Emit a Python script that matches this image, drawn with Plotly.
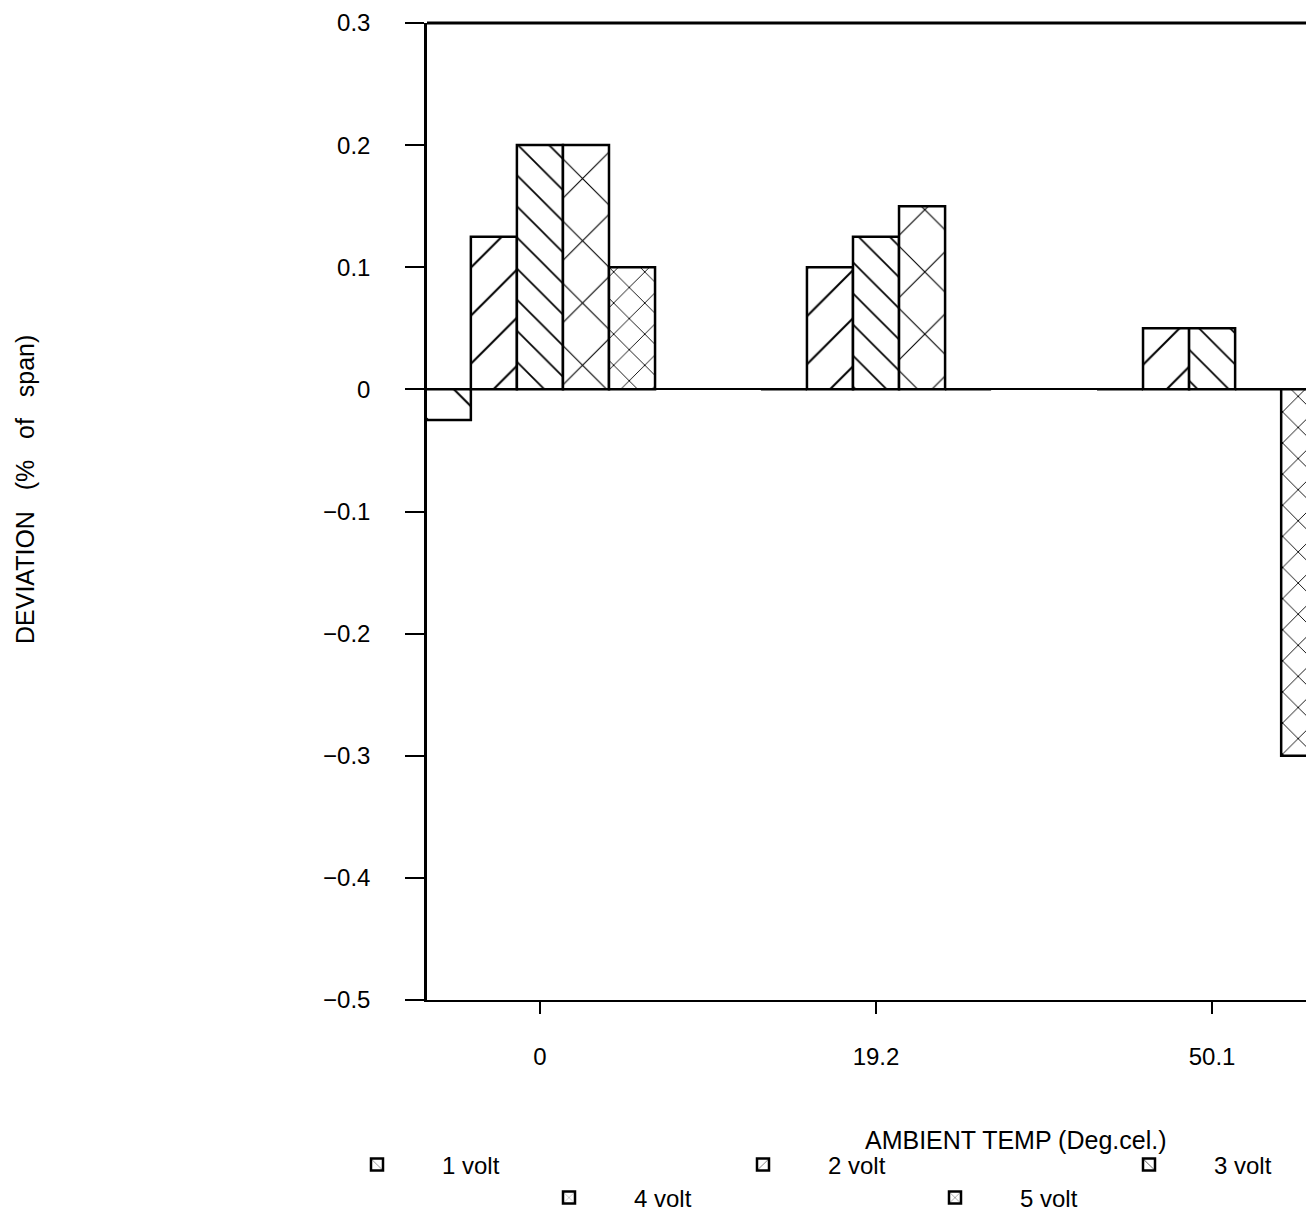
import plotly.graph_objects as go

# ---- data ----
categories = ["0", "19.2", "50.1"]
series_names = ["1 volt", "2 volt", "3 volt", "4 volt", "5 volt"]
volt1 = [-0.025, 0.0, 0.0]
volt2 = [0.125, 0.1, 0.05]
volt3 = [0.2, 0.125, 0.05]
volt4 = [0.2, 0.15, 0.0]
volt5 = [0.1, 0.0, -0.3]
y_tickvals = [0.3, 0.2, 0.1, 0, -0.1, -0.2, -0.3, -0.4, -0.5]
y_ticktext = ["0.3", "0.2", "0.1", "0", "\u22120.1", "\u22120.2", "\u22120.3", "\u22120.4", "\u22120.5"]

# ---- styles ----
W, H = 1314, 1221
FONT = "Liberation Sans, Arial, Helvetica, sans-serif"
patterns = [
    dict(shape="\\", size=40, solidity=0.05),
    dict(shape="/", size=34, solidity=0.06),
    dict(shape="\\", size=22, solidity=0.08),
    dict(shape="x", size=44, solidity=0.05),
    dict(shape="x", size=22, solidity=0.08),
]
legend_ids = ["legend", "legend", "legend", "legend2", "legend2"]

fig = go.Figure()
for name, vals, pat, lg in zip(series_names, [volt1, volt2, volt3, volt4, volt5], patterns, legend_ids):
    fig.add_trace(go.Bar(
        x=categories, y=vals, name=name, legend=lg,
        marker=dict(color="white",
                    line=dict(color="black", width=2.5),
                    pattern=dict(fgcolor="black", bgcolor="white", fillmode="replace", **pat)),
    ))

x0 = 419 / W
leg_common = dict(orientation="h", xanchor="left", yanchor="middle",
                  entrywidth=251, entrywidthmode="pixels", itemwidth=120,
                  font=dict(size=24), bgcolor="rgba(0,0,0,0)", traceorder="normal",
                  borderwidth=0)
fig.update_layout(
    template="none",
    width=W, height=H,
    margin=dict(l=0, r=0, t=0, b=0, pad=0, autoexpand=False),
    paper_bgcolor="white", plot_bgcolor="white",
    font=dict(family=FONT, size=24, color="black"),
    barmode="group", bargap=0.315, bargroupgap=0,
    xaxis=dict(domain=[x0, 1], type="category", range=[-0.336, 2.327],
               showline=True, linecolor="black", linewidth=2,
               ticks="outside", ticklen=12, tickwidth=2, tickcolor="black",
               ticklabelstandoff=22, showgrid=False, zeroline=False,
               automargin=False, tickfont=dict(size=24)),
    yaxis=dict(domain=[1 - 992 / H, 1 - 15 / H], range=[-0.5, 0.3],
               tickvals=y_tickvals, ticktext=y_ticktext,
               showline=True, linecolor="black", linewidth=2.5,
               ticks="outside", ticklen=19, tickwidth=2, tickcolor="black",
               ticklabelstandoff=30, showgrid=False,
               zeroline=True, zerolinecolor="black", zerolinewidth=2,
               automargin=False, tickfont=dict(size=24)),
    legend=dict(x=304 / W, y=1 - 1157 / H, **leg_common),
    legend2=dict(x=496 / W, y=1 - 1190 / H, **leg_common),
    showlegend=True,
)

# top border of the plot box
fig.add_shape(type="line", xref="x domain", yref="y domain", x0=0, x1=1, y0=1, y1=1,
              line=dict(color="black", width=3))

fig.add_annotation(text="AMBIENT TEMP (Deg.cel.)", xref="paper", yref="paper",
                   x=1007 / W, y=1 - 1132 / H, showarrow=False,
                   font=dict(size=25, family=FONT), xanchor="center", yanchor="middle")
fig.add_annotation(text="DEVIATION\u00a0\u00a0\u00a0(%\u00a0\u00a0\u00a0of\u00a0\u00a0\u00a0span)", xref="paper", yref="paper",
                   x=17 / W, y=1 - 482 / H, showarrow=False, textangle=-90,
                   font=dict(size=25, family=FONT), xanchor="center", yanchor="middle")

fig.write_html("out.html")
